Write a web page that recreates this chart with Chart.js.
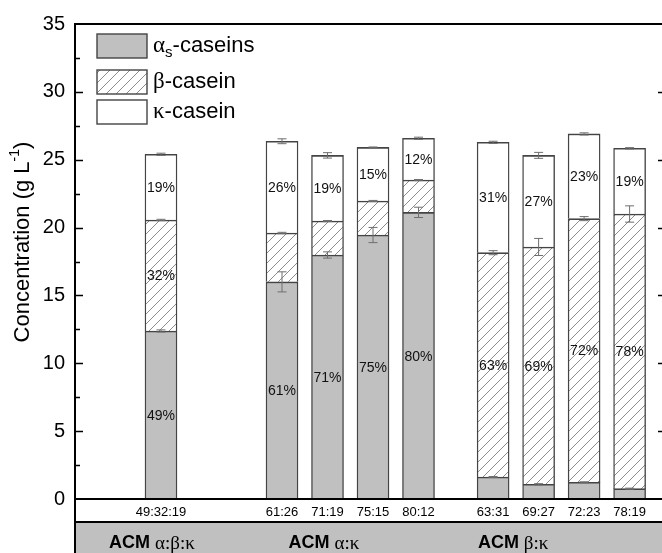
<!DOCTYPE html>
<html><head><meta charset="utf-8">
<script src="https://cdn.jsdelivr.net/npm/chart.js@4.4.1/dist/chart.umd.min.js"></script>
<style>html,body{margin:0;padding:0;background:#fff}#wrap{width:662px;height:553px;position:relative}</style>
</head><body><div id="wrap"><canvas id="c" width="662" height="553"></canvas></div>
<script>
// ---- data ----
const categories = ['49:32:19','61:26','71:19','75:15','80:12','63:31','69:27','72:23','78:19'];
const groupOf    = [0,1,1,1,1,2,2,2,2];
const groupPrefix = 'ACM';
const groupRatios = ['α:β:κ','α:κ','β:κ'];
const alphaS = [12.38, 16.00, 17.98, 19.45, 21.12, 1.62, 1.08, 1.23, 0.76];
const beta   = [ 8.18,  3.60,  2.50,  2.51,  2.38, 16.53, 17.49, 19.43, 20.24];
const kappa  = [ 4.84,  6.76,  4.84,  3.95,  3.08,  8.13,  6.75,  6.24,  4.84];
const alphaErr = [0.08, 0.74, 0.23, 0.56, 0.38, 0.04, 0.05, 0.04, 0.04];
const betaErr  = [0.05, 0.05, 0.04, 0.04, 0.04, 0.15, 0.63, 0.15, 0.60];
const kappaErr = [0.08, 0.18, 0.20, 0.03, 0.08, 0.08, 0.22, 0.08, 0.05];
const alphaPct = ['49%','61%','71%','75%','80%','','','',''];
const betaPct  = ['32%','','','','','63%','69%','72%','78%'];
const kappaPct = ['19%','26%','19%','15%','12%','31%','27%','23%','19%'];
const yTicks = [0,5,10,15,20,25,30,35];

// ---- layout ----
const groupGaps = [0, 1.66, 0.64];
const gapOffset = groupGaps.map((g,i)=>groupGaps.slice(0,i+1).reduce((a,b)=>a+b,0));
const xPos = categories.map((c,i)=> i + gapOffset[groupOf[i]]);
const groupLabelX = [-0.2, 3.58, 7.74];
const SANS = '"Liberation Sans", Arial, sans-serif';
const SERIF = '"Liberation Serif", "Times New Roman", serif';

function hatch(){
  const s = 10, cv = document.createElement('canvas');
  cv.width = s; cv.height = s;
  const c = cv.getContext('2d');
  c.fillStyle = '#fff'; c.fillRect(0,0,s,s);
  c.strokeStyle = '#707070'; c.lineWidth = 0.8;
  c.beginPath();
  c.moveTo(0,s); c.lineTo(s,0);
  c.moveTo(-1,1); c.lineTo(1,-1);
  c.moveTo(s-1,s+1); c.lineTo(s+1,s-1);
  c.stroke();
  return c.createPattern(cv,'repeat');
}
const ctx0 = document.getElementById('c').getContext('2d');
const hatchPat = hatch();

function drawRich(ctx, parts, x, y, align){
  let w = 0;
  parts.forEach(p=>{ctx.font = p.font; w += ctx.measureText(p.t).width;});
  let cx = align==='center' ? x - w/2 : (align==='right' ? x - w : x);
  ctx.textBaseline = 'middle'; ctx.textAlign = 'left';
  parts.forEach(p=>{ctx.font = p.font; ctx.fillText(p.t, cx, y + (p.dy||0)); cx += ctx.measureText(p.t).width;});
}

const mk = (arr)=>arr.map((v,i)=>({x:xPos[i], y:v}));
const common = {barThickness:32, borderWidth:{top:1.6,left:1.4,right:1.4,bottom:0}, borderColor:'#444', borderSkipped:false};

const decor = {
  id:'decor',
  beforeDraw(chart){
    const {ctx, chartArea:a} = chart;
    ctx.save();
    ctx.fillStyle = '#c0c0c0';
    ctx.fillRect(a.left, 523, chart.width - a.left, chart.height-523);
    ctx.restore();
  },
  afterDatasetsDraw(chart){
    const {ctx, chartArea:a, scales:{x,y}} = chart;
    ctx.save();
    ctx.strokeStyle = '#6e6e6e'; ctx.lineWidth = 1;
    const tops = [alphaS.map(v=>v), alphaS.map((v,i)=>v+beta[i]), alphaS.map((v,i)=>v+beta[i]+kappa[i])];
    const errs = [alphaErr, betaErr, kappaErr];
    for (let s=0;s<3;s++) for (let i=0;i<categories.length;i++){
      const px = x.getPixelForValue(xPos[i]);
      const y1 = y.getPixelForValue(tops[s][i]+errs[s][i]);
      const y2 = y.getPixelForValue(tops[s][i]-errs[s][i]);
      ctx.beginPath();
      ctx.moveTo(px, y1); ctx.lineTo(px, y2);
      ctx.moveTo(px-4.5, y1); ctx.lineTo(px+4.5, y1);
      ctx.moveTo(px-4.5, y2); ctx.lineTo(px+4.5, y2);
      ctx.stroke();
    }
    ctx.fillStyle = '#111'; ctx.font = '14px '+SANS; ctx.textAlign='center'; ctx.textBaseline='middle';
    const bottoms = [alphaS.map(()=>0), alphaS, tops[1]];
    const pcts = [alphaPct, betaPct, kappaPct];
    for (let s=0;s<3;s++) for (let i=0;i<categories.length;i++){
      if (!pcts[s][i]) continue;
      const px = x.getPixelForValue(xPos[i]);
      const py = y.getPixelForValue((bottoms[s][i]+tops[s][i])/2);
      ctx.fillText(pcts[s][i], px, py+1);
    }
    ctx.restore();
  },
  afterDraw(chart){
    const {ctx, chartArea:a, scales:{x,y}} = chart;
    const W = chart.width, H = chart.height;
    ctx.save();
    ctx.strokeStyle = '#000'; ctx.lineWidth = 2;
    ctx.beginPath();
    ctx.moveTo(a.left, a.top); ctx.lineTo(W, a.top);
    ctx.moveTo(a.left, a.top-1); ctx.lineTo(a.left, H);
    ctx.moveTo(a.left, a.bottom); ctx.lineTo(W, a.bottom);
    ctx.moveTo(a.left, 522); ctx.lineTo(W, 522);
    ctx.stroke();
    ctx.lineWidth = 1.5;
    ctx.beginPath();
    for (let v=0; v<=35; v+=2.5){
      const py = Math.round(y.getPixelForValue(v))+0.5;
      const major = (v % 5 === 0);
      if (v===0 || v===35) continue;
      ctx.moveTo(a.left, py); ctx.lineTo(a.left + (major?8:5), py);
      if (major){ ctx.moveTo(W, py); ctx.lineTo(W-4, py); }
    }
    ctx.stroke();
    ctx.fillStyle = '#000';
    groupRatios.forEach((r,g)=>{
      const px = x.getPixelForValue(groupLabelX[g]);
      drawRich(ctx, [{t:groupPrefix+' ', font:'bold 18px '+SANS},{t:r, font:'19px '+SERIF, dy:1}], px, 543, 'center');
    });
    const boxes = [{y:34, fill:'#c0c0c0'},{y:70, fill:hatchPat},{y:100, fill:'#ffffff'}];
    const texts = [
      [{t:'α', font:'23px '+SERIF},{t:'s', font:'15px '+SANS, dy:7},{t:'-caseins', font:'22px '+SANS}],
      [{t:'β', font:'23px '+SERIF},{t:'-casein', font:'22px '+SANS}],
      [{t:'κ', font:'23px '+SERIF},{t:'-casein', font:'22px '+SANS}]
    ];
    boxes.forEach((b,i)=>{
      ctx.fillStyle = b.fill; ctx.fillRect(97, b.y, 50, 24);
      ctx.strokeStyle = '#444'; ctx.lineWidth = 1.4; ctx.strokeRect(97, b.y, 50, 24);
      ctx.fillStyle = '#000';
      drawRich(ctx, texts[i], 153, b.y+12, 'left');
    });
    ctx.translate(23, 242);
    ctx.rotate(-Math.PI/2);
    ctx.fillStyle = '#000';
    drawRich(ctx, [{t:'Concentration (g L', font:'22px '+SANS},{t:'-1', font:'14px '+SANS, dy:-8},{t:')', font:'22px '+SANS}], 0, 0, 'center');
    ctx.restore();
  }
};

new Chart(ctx0, {
  type:'bar',
  data:{
    datasets:[
      {label:'αs-caseins', data:mk(alphaS), backgroundColor:'#c0c0c0', ...common},
      {label:'β-casein', data:mk(beta), backgroundColor:hatchPat, ...common},
      {label:'κ-casein', data:mk(kappa), backgroundColor:'#ffffff', ...common}
    ]
  },
  options:{
    responsive:false, animation:false,
    layout:{padding:{top:24, right:1, left:0, bottom:0}},
    plugins:{legend:{display:false}, tooltip:{enabled:false}},
    scales:{
      x:{type:'linear', stacked:true, min:-1.89, max:10.99, offset:false,
         grid:{display:false, drawTicks:false}, border:{display:false},
         afterBuildTicks:(s)=>{s.ticks = xPos.map(v=>({value:v}));},
         afterFit:(s)=>{s.height = 54;},
         ticks:{autoSkip:false, maxRotation:0, padding:6, color:'#000', font:{family:SANS, size:13},
                callback:(v,i)=>categories[i]}},
      y:{stacked:true, min:0, max:35,
         grid:{display:false, drawTicks:false}, border:{display:false},
         afterBuildTicks:(s)=>{s.ticks = yTicks.map(v=>({value:v}));},
         afterFit:(s)=>{s.width = 75;},
         ticks:{padding:10, color:'#000', font:{family:SANS, size:20}}}
    }
  },
  plugins:[decor]
});
</script></body></html>
